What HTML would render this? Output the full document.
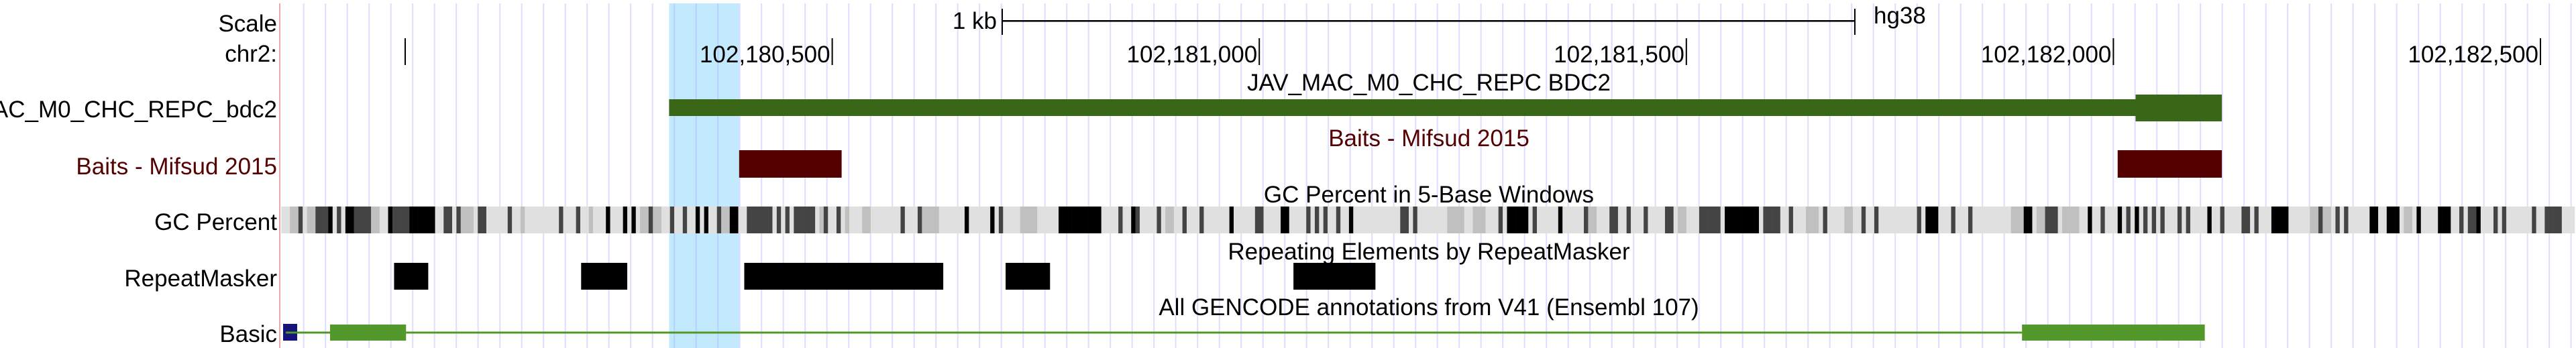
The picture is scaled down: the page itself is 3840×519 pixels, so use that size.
<!DOCTYPE html>
<html><head><meta charset="utf-8">
<style>
html,body{margin:0;padding:0;background:#fff;}
svg{display:block;font-family:"Liberation Sans",Arial,sans-serif;}
</style></head>
<body>
<svg id="chart" width="3840" height="519" viewBox="0 0 3840 519" xmlns="http://www.w3.org/2000/svg">
  <g id="bg"></g>
  <g id="grid"></g>
  <g id="marks"></g>
  <g id="labels" font-size="35">
    <text x="413" y="47" text-anchor="end">Scale</text>
    <text x="413" y="92" text-anchor="end">chr2:</text>
    <text x="1486" y="43" text-anchor="end">1 kb</text>
    <text x="2793" y="35">hg38</text>
    <text x="2130" y="135" text-anchor="middle">JAV_MAC_M0_CHC_REPC BDC2</text>
    <text x="2130" y="218" text-anchor="middle" fill="#550000">Baits - Mifsud 2015</text>
    <text x="2130" y="302" text-anchor="middle">GC Percent in 5-Base Windows</text>
    <text x="2130" y="387" text-anchor="middle">Repeating Elements by RepeatMasker</text>
    <text x="2130" y="470" text-anchor="middle">All GENCODE annotations from V41 (Ensembl 107)</text>
    <svg x="0" y="0" width="415" height="519" overflow="hidden">
      <text x="413" y="175" text-anchor="end">JAV_MAC_M0_CHC_REPC_bdc2</text>
    </svg>
    <text x="413" y="260" text-anchor="end" fill="#550000">Baits - Mifsud 2015</text>
    <text x="413" y="343" text-anchor="end">GC Percent</text>
    <text x="413" y="427" text-anchor="end">RepeatMasker</text>
    <text x="413" y="510" text-anchor="end">Basic</text>
  </g>
</svg>
<script>
const tickPositions = [102180000, 102180500, 102181000, 102181500, 102182000, 102182500];
const tickLabels = ["", "102,180,500", "102,181,000", "102,181,500", "102,182,000", "102,182,500"];
const highlightRange = [102180309, 102180391];
const javFeature = [102180309, 102182127];
const javThickStart = [102182026];
const baitStarts = [102180391, 102182005];
const baitEnds = [102180511, 102182127];
const repeatStarts = [102179987, 102180206, 102180397, 102180703, 102181040];
const repeatEnds = [102180027, 102180260, 102180630, 102180755, 102181136];
const geneSpan = [102179855, 102181893];
const exonStarts = [102179912, 102181893];
const exonEnds = [102180001, 102182107];
const gcStartBp = 102179855;
const gcWindow = 5;
const gcValues = [
30,30,55,55,80,30,55,55,80,80, 80,100,30,80,30,100,100,80,80,80,
80,55,55,30,30,100,80,80,80,80, 100,100,100,100,100,100,30,30,80,80,
30,80,55,55,55,30,80,80,30,30, 30,30,30,80,30,30,55,30,30,30,
30,30,30,30,30,80,30,30,30,80, 30,30,55,30,30,30,100,30,30,30,
100,30,100,30,55,55,80,55,55,30, 30,80,30,30,80,30,30,100,30,100,
30,30,80,55,55,100,100,30,30,80, 80,80,80,80,80,30,80,30,80,30,
80,80,80,80,80,30,55,80,30,30, 80,30,55,30,30,30,55,55,30,30,
30,30,30,30,30,80,30,30,30,80, 55,55,55,55,30,30,30,30,30,30,
100,30,30,30,30,30,100,30,80,30, 30,30,30,55,55,55,55,30,30,30,
30,30,100,100,100,100,100,100,100,100, 100,100,30,30,30,30,80,30,30,100,
80,30,30,30,30,80,30,55,55,30, 30,80,30,30,30,80,30,30,30,30,
30,30,100,30,30,30,30,30,80,80, 30,30,30,30,100,100,30,30,30,30,
80,30,80,30,80,30,30,80,30,30, 100,30,30,30,30,30,30,30,30,30,
30,30,80,80,30,80,30,30,30,30, 30,30,30,55,55,55,55,30,30,55,
55,55,30,30,30,80,30,100,100,100, 100,100,30,80,30,30,30,30,30,100,
30,30,30,30,30,80,55,55,30,30, 30,80,80,30,30,80,30,30,30,80,
30,30,30,30,80,80,30,55,55,30, 30,30,80,80,80,80,80,30,100,100,
100,100,100,100,100,100,30,80,80,80, 80,30,30,80,30,30,30,55,55,55,
30,80,30,30,30,30,55,55,30,30, 80,30,30,80,30,30,30,30,30,30,
30,30,30,80,30,100,100,100,30,30, 30,80,30,30,30,80,30,30,30,30,
30,30,30,30,30,55,55,55,100,100, 30,55,55,80,80,80,30,55,55,55,
55,30,30,100,30,30,80,30,30,30, 100,30,80,30,100,30,80,30,80,30,
80,30,30,30,80,30,80,30,30,30, 30,100,30,30,80,30,30,30,30,80,
80,30,80,30,30,30,100,100,100,100, 30,30,30,30,30,55,55,80,55,55,
30,80,30,80,30,30,30,30,30,100, 100,30,30,100,100,100,30,55,55,30,
100,30,30,30,30,100,100,100,30,30, 80,30,80,80,100,30,30,30,80,30,
80,30,30,30,30,30,30,80,30,30, 80,80,80,80,30,30,30
];

const NS = "http://www.w3.org/2000/svg";
const PX_PER_BP = 1.2732;
function xScale(bp){ return 604 + (bp - 102180000) * PX_PER_BP; }
function gcColor(v){
  let g;
  if (v <= 30) g = 224;
  else if (v <= 55) g = 224 - (v - 30) / 25 * 32;
  else if (v <= 80) g = 192 - (v - 55) / 25 * 124;
  else g = Math.max(0, 68 - (v - 80) / 20 * 68);
  g = Math.round(g);
  return "rgb(" + g + "," + g + "," + g + ")";
}
function mk(parent, tag, attrs){
  const el = document.createElementNS(NS, tag);
  for (const k in attrs) el.setAttribute(k, attrs[k]);
  parent.appendChild(el);
  return el;
}
const bg = document.getElementById("bg");
const grid = document.getElementById("grid");
const marks = document.getElementById("marks");

const hl = mk(bg, "rect", {x: xScale(highlightRange[0]), y: 5, width: xScale(highlightRange[1]) - xScale(highlightRange[0]), height: 514, fill: "#c2eafc"});



for (let gx = 452.7; gx < 3840; gx += 32.5) {
  const gl = mk(grid, "rect", {x: gx - 1, y: 5, width: 2, height: 514, fill: "#aaaaff", "fill-opacity": 0.4});
  
  
}
const sep = mk(grid, "rect", {x: 416, y: 5, width: 2, height: 514, fill: "#f0a8a8"});



const sb = mk(marks, "rect", {x: 1494, y: 30, width: 1271, height: 2.5, fill: "#000"});


for (const sx of [1494, 2765]) {
  const st = mk(marks, "rect", {x: sx - 1, y: 13, width: 2, height: 39, fill: "#000"});
  
  
}

for (let i = 0; i < tickPositions.length; i++) {
  const tx = xScale(tickPositions[i]);
  const t = mk(marks, "rect", {x: tx - 1, y: 57, width: 2, height: 40, fill: "#000"});
  
  
  if (tickLabels[i]) {
    const tl = mk(marks, "text", {x: tx - 3, y: 93, "text-anchor": "end", "font-size": 35});
    tl.textContent = tickLabels[i];
    
    
  }
}

const jav = mk(marks, "rect", {x: xScale(javFeature[0]), y: 148, width: xScale(javThickStart[0]) - xScale(javFeature[0]), height: 25, fill: "#3a6618"});


const javT = mk(marks, "rect", {x: xScale(javThickStart[0]), y: 141, width: xScale(javFeature[1]) - xScale(javThickStart[0]), height: 40, fill: "#3a6618"});



for (let i = 0; i < baitStarts.length; i++) {
  const b = mk(marks, "rect", {x: xScale(baitStarts[i]), y: 224, width: xScale(baitEnds[i]) - xScale(baitStarts[i]), height: 41, fill: "#550000"});
  
  
}

for (let i = 0; i < gcValues.length; i++) {
  const x0 = xScale(gcStartBp + i * gcWindow);
  const x1 = xScale(gcStartBp + (i + 1) * gcWindow);
  if (x0 > 3840) break;
  const c = mk(marks, "rect", {x: x0, y: 308, width: x1 - x0 + 0.3, height: 40, fill: gcColor(gcValues[i])});
  
  
}

for (let i = 0; i < repeatStarts.length; i++) {
  const r = mk(marks, "rect", {x: xScale(repeatStarts[i]), y: 392, width: xScale(repeatEnds[i]) - xScale(repeatStarts[i]), height: 40, fill: "#000"});
  
  
}

const gline = mk(marks, "rect", {x: xScale(geneSpan[0]) + 6, y: 494.5, width: xScale(geneSpan[1]) - xScale(geneSpan[0]) - 6, height: 3, fill: "#53982a"});


const gm = mk(marks, "rect", {x: 422, y: 483, width: 21, height: 25, fill: "#14147a"});


const gml = mk(marks, "rect", {x: 426, y: 494.5, width: 17, height: 3, fill: "#53982a"});


for (let i = 0; i < exonStarts.length; i++) {
  const e = mk(marks, "rect", {x: xScale(exonStarts[i]), y: 484, width: xScale(exonEnds[i]) - xScale(exonStarts[i]), height: 24, fill: "#53982a"});
  
  
}
</script>
</body></html>
